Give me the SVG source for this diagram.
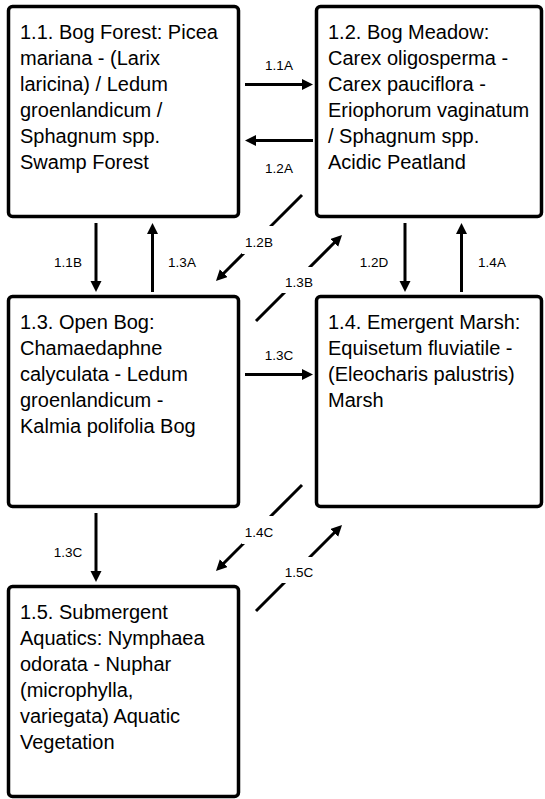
<svg xmlns="http://www.w3.org/2000/svg" width="545" height="799" viewBox="0 0 545 799">
<style>
.box{fill:#fff;stroke:#000;stroke-width:3.5}
.t{font-family:"Liberation Sans",Arial,sans-serif;font-size:20px;fill:#000}
.lb{font-family:"Liberation Sans",Arial,sans-serif;font-size:13.5px;fill:#000;text-anchor:middle}
.ar{stroke:#000;stroke-width:3;fill:none;marker-end:url(#ah)}
.bg{fill:#fff}
</style>
<defs>
<marker id="ah" markerUnits="userSpaceOnUse" markerWidth="12" markerHeight="12" refX="6" refY="5.5" orient="auto">
<path d="M0,0 L11,5.5 L0,11 z" fill="#000"/>
</marker>
</defs>
<rect width="545" height="799" fill="#fff"/>
<g id="n11">
<rect class="box" x="8.5" y="6.5" width="230" height="210" rx="4"/>
<text class="t" x="20" y="39">1.1. Bog Forest: Picea</text>
<text class="t" x="20" y="65">mariana - (Larix</text>
<text class="t" x="20" y="91">laricina) / Ledum</text>
<text class="t" x="20" y="117">groenlandicum /</text>
<text class="t" x="20" y="143">Sphagnum spp.</text>
<text class="t" x="20" y="169">Swamp Forest</text>
</g>
<g id="n12">
<rect class="box" x="316.5" y="6.5" width="225" height="210" rx="4"/>
<text class="t" x="328" y="39">1.2. Bog Meadow:</text>
<text class="t" x="328" y="65">Carex oligosperma -</text>
<text class="t" x="328" y="91">Carex pauciflora -</text>
<text class="t" x="328" y="117">Eriophorum vaginatum</text>
<text class="t" x="328" y="143">/ Sphagnum spp.</text>
<text class="t" x="328" y="169">Acidic Peatland</text>
</g>
<g id="n13">
<rect class="box" x="8.5" y="296.5" width="230" height="210" rx="4"/>
<text class="t" x="20" y="329">1.3. Open Bog:</text>
<text class="t" x="20" y="355">Chamaedaphne</text>
<text class="t" x="20" y="381">calyculata - Ledum</text>
<text class="t" x="20" y="407">groenlandicum -</text>
<text class="t" x="20" y="433">Kalmia polifolia Bog</text>
</g>
<g id="n14">
<rect class="box" x="316.5" y="296.5" width="225" height="210" rx="4"/>
<text class="t" x="328" y="329">1.4. Emergent Marsh:</text>
<text class="t" x="328" y="355">Equisetum fluviatile -</text>
<text class="t" x="328" y="381">(Eleocharis palustris)</text>
<text class="t" x="328" y="407">Marsh</text>
</g>
<g id="n15">
<rect class="box" x="8.5" y="586.5" width="230" height="210" rx="4"/>
<text class="t" x="20" y="619">1.5. Submergent</text>
<text class="t" x="20" y="645">Aquatics: Nymphaea</text>
<text class="t" x="20" y="671">odorata - Nuphar</text>
<text class="t" x="20" y="697">(microphylla,</text>
<text class="t" x="20" y="723">variegata) Aquatic</text>
<text class="t" x="20" y="749">Vegetation</text>
</g>
<g id="connectors">
<!-- horizontal -->
<line class="ar" x1="245" y1="84.5" x2="308" y2="84.5"/>
<text class="lb" x="279" y="70">1.1A</text>
<line class="ar" x1="313" y1="140.5" x2="250" y2="140.5"/>
<text class="lb" x="279" y="173">1.2A</text>
<line class="ar" x1="245" y1="374.5" x2="308" y2="374.5"/>
<text class="lb" x="279" y="360">1.3C</text>
<!-- vertical -->
<line class="ar" x1="96" y1="223" x2="96" y2="287"/>
<text class="lb" x="68" y="267">1.1B</text>
<line class="ar" x1="152.5" y1="292" x2="152.5" y2="228"/>
<text class="lb" x="182" y="267">1.3A</text>
<line class="ar" x1="405" y1="223" x2="405" y2="287"/>
<text class="lb" x="374" y="267">1.2D</text>
<line class="ar" x1="461.5" y1="292" x2="461.5" y2="228"/>
<text class="lb" x="492" y="267">1.4A</text>
<line class="ar" x1="96" y1="513" x2="96" y2="577"/>
<text class="lb" x="68" y="557">1.3C</text>
<!-- diagonals -->
<line class="ar" x1="302" y1="195" x2="219.5" y2="277.5"/>
<rect class="bg" x="242" y="226" width="34" height="28"/>
<text class="lb" x="259" y="246.5">1.2B</text>
<line class="ar" x1="256" y1="321" x2="338.5" y2="238.5"/>
<rect class="bg" x="282" y="267" width="35" height="26"/>
<text class="lb" x="299" y="286.5">1.3B</text>
<line class="ar" x1="302" y1="485" x2="219.5" y2="567.5"/>
<rect class="bg" x="242" y="516" width="34" height="28"/>
<text class="lb" x="259" y="536.5">1.4C</text>
<line class="ar" x1="256" y1="611" x2="338.5" y2="528.5"/>
<rect class="bg" x="282" y="557" width="35" height="26"/>
<text class="lb" x="299" y="576.5">1.5C</text>
</g>
</svg>
